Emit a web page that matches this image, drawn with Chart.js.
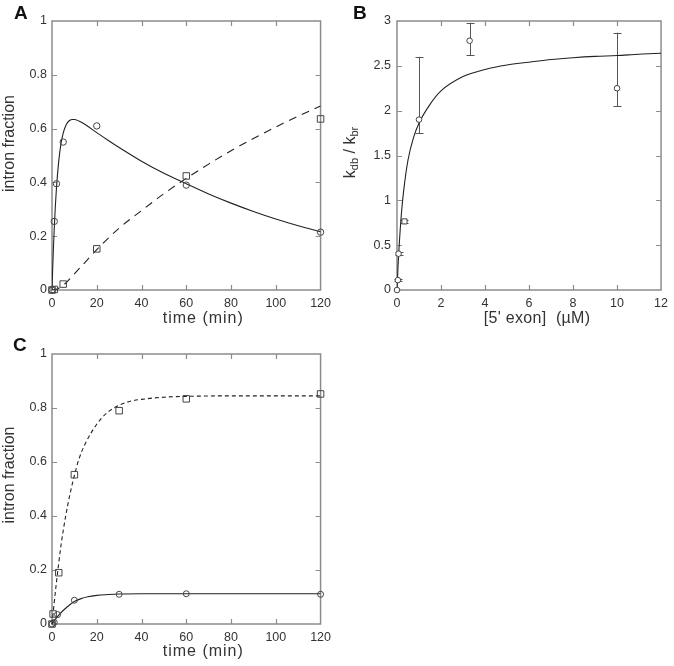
<!DOCTYPE html>
<html><head><meta charset="utf-8">
<script src="https://cdn.jsdelivr.net/npm/chart.js@4"></script>
<style>
html,body{margin:0;padding:0;background:#fff;width:674px;height:666px;overflow:hidden}
canvas{position:absolute}
</style></head><body>
<canvas id="cA" width="337" height="333" style="left:0;top:0"></canvas>
<canvas id="cB" width="337" height="333" style="left:337px;top:0"></canvas>
<canvas id="cC" width="337" height="333" style="left:0;top:333px"></canvas>
<script>
// ---------- Panel A ----------
const timeCirclesA = [0, 1, 2, 5, 20, 60, 120];
const circlesA     = [0, 0.255, 0.395, 0.55, 0.61, 0.39, 0.215];
const timeSquaresA = [0, 1, 5, 20, 60, 120];
const squaresA     = [0, 0.002, 0.022, 0.153, 0.424, 0.636];
const fitTimeA  = [0, 0.5, 1, 1.5, 2, 3, 4, 5, 6, 7, 8, 9, 10, 12, 15, 20, 25, 30, 40, 50, 60, 70, 80, 90, 100, 110, 120];
const fitSolidA = [0, 0.126, 0.229, 0.312, 0.38, 0.478, 0.543, 0.583, 0.608, 0.623, 0.631, 0.634, 0.634, 0.628, 0.614, 0.585, 0.557, 0.53, 0.479, 0.434, 0.395, 0.357, 0.323, 0.292, 0.264, 0.239, 0.217];
const fitDashTimeA = [0, 2, 4, 6, 10, 15, 20, 30, 40, 50, 60, 70, 80, 90, 100, 110, 120];
const fitDashA     = [0, 0.003, 0.012, 0.025, 0.06, 0.105, 0.15, 0.23, 0.295, 0.358, 0.415, 0.468, 0.518, 0.563, 0.606, 0.646, 0.684];
const xTicksA = {min: 0, max: 120, step: 20};
const yTicksA = {min: 0, max: 1, step: 0.2};

// ---------- Panel B ----------
const exonB    = [0, 0.04, 0.07, 0.34, 1, 3.3, 10];
const ratioB   = [0, 0.11, 0.405, 0.765, 1.9, 2.78, 2.25];
const errLowB  = [0, 0.095, 0.385, 0.745, 1.75, 2.62, 2.05];
const errHighB = [0, 0.125, 0.425, 0.785, 2.6, 2.98, 2.87];
const fitExonB  = [0, 0.05, 0.1, 0.2, 0.3, 0.5, 0.75, 1, 1.5, 2, 3, 4, 5, 6, 7, 8, 9, 10, 11, 12];
const fitRatioB = [0, 0.28, 0.5, 0.85, 1.1, 1.45, 1.7, 1.86, 2.07, 2.22, 2.38, 2.46, 2.51, 2.54, 2.57, 2.59, 2.605, 2.615, 2.63, 2.64];
const xTicksB = {min: 0, max: 12, step: 2};
const yTicksB = {min: 0, max: 3, step: 0.5};

// ---------- Panel C ----------
const timeCirclesC = [0, 1, 2.5, 10, 30, 60, 120];
const circlesC     = [0, 0.006, 0.035, 0.088, 0.11, 0.112, 0.11];
const timeSquaresC = [0, 0.5, 3, 10, 30, 60, 120];
const squaresC     = [0, 0.037, 0.19, 0.553, 0.79, 0.834, 0.852];
const fitSolidTimeC = [0, 1, 2, 3, 5, 7, 10, 13, 16, 20, 25, 30, 40, 60, 120];
const fitSolidC     = [0, 0.012, 0.023, 0.033, 0.05, 0.065, 0.083, 0.094, 0.101, 0.106, 0.109, 0.111, 0.112, 0.112, 0.112];
const fitDashTimeC = [0, 1, 2, 3, 4, 5, 6, 8, 10, 12, 15, 20, 25, 30, 35, 40, 50, 60, 80, 100, 120];
const fitDashC     = [0, 0.08, 0.155, 0.225, 0.29, 0.345, 0.395, 0.48, 0.55, 0.61, 0.67, 0.74, 0.785, 0.81, 0.825, 0.832, 0.84, 0.843, 0.845, 0.845, 0.845];
const xTicksC = {min: 0, max: 120, step: 20};
const yTicksC = {min: 0, max: 1, step: 0.2};

// ---------- helpers ----------
const FONT = "'Liberation Sans', Arial, Helvetica, sans-serif";
const TXT = '#333';
const FRAME = '#8c8c8c';
const pts = (xs, ys) => xs.map((x, i) => ({x: x, y: ys[i]}));

const frameTicks = {
  id: 'frameTicks',
  beforeDatasetsDraw(chart) {
    const {ctx, chartArea: a, scales} = chart;
    ctx.save();
    ctx.strokeStyle = FRAME;
    ctx.lineWidth = 1.5;
    ctx.strokeRect(a.left, a.top, a.right - a.left, a.bottom - a.top);
    ctx.lineWidth = 1.2;
    ctx.beginPath();
    const L = 5;
    scales.x.ticks.forEach(t => {
      const p = Math.round(scales.x.getPixelForValue(t.value)) + 0.5;
      if (p <= a.left + 1 || p >= a.right - 1) return;
      ctx.moveTo(p, a.bottom); ctx.lineTo(p, a.bottom - L);
      ctx.moveTo(p, a.top); ctx.lineTo(p, a.top + L);
    });
    scales.y.ticks.forEach(t => {
      const p = Math.round(scales.y.getPixelForValue(t.value)) + 0.5;
      if (p <= a.top + 1 || p >= a.bottom - 1) return;
      ctx.moveTo(a.left, p); ctx.lineTo(a.left + L, p);
      ctx.moveTo(a.right, p); ctx.lineTo(a.right - L, p);
    });
    ctx.stroke();
    ctx.restore();
  }
};

function drawRich(ctx, segs, x, y, rot, spacing) {
  ctx.save();
  ctx.translate(x, y);
  ctx.rotate(rot);
  ctx.fillStyle = TXT;
  ctx.textBaseline = 'middle';
  ctx.textAlign = 'left';
  if (spacing) ctx.letterSpacing = spacing;
  let total = 0;
  segs.forEach(s => { ctx.font = s.font; total += ctx.measureText(s.t).width; });
  let cx = -total / 2;
  segs.forEach(s => { ctx.font = s.font; ctx.fillText(s.t, cx, s.dy || 0); cx += ctx.measureText(s.t).width; });
  ctx.restore();
}

const richTitles = {
  id: 'richTitles',
  afterDraw(chart, args, o) {
    const {ctx, chartArea: a} = chart;
    ctx.save();
    ctx.fillStyle = '#111';
    ctx.font = 'bold 19px ' + FONT;
    ctx.textBaseline = 'alphabetic';
    ctx.fillText(o.letter, o.letterX, o.letterY);
    ctx.restore();
    drawRich(ctx, o.xTitle, (a.left + a.right) / 2 + o.xdx, a.bottom + o.xdy, 0, o.xSpacing);
    drawRich(ctx, o.yTitle, o.yx, (a.top + a.bottom) / 2 + o.ydy, -Math.PI / 2, '0px');
  }
};

const errorBars = {
  id: 'errorBars',
  beforeDatasetsDraw(chart, args, o) {
    if (!o.low) return;
    const {ctx, scales} = chart;
    ctx.save();
    ctx.strokeStyle = '#555';
    ctx.lineWidth = 1;
    ctx.beginPath();
    o.xs.forEach((xv, i) => {
      if (o.high[i] - o.low[i] <= 0) return;
      const px = Math.round(scales.x.getPixelForValue(xv)) + 0.5;
      const y1 = scales.y.getPixelForValue(o.low[i]);
      const y2 = scales.y.getPixelForValue(o.high[i]);
      ctx.moveTo(px, y1); ctx.lineTo(px, y2);
      ctx.moveTo(px - 4, Math.round(y1) + 0.5); ctx.lineTo(px + 4, Math.round(y1) + 0.5);
      ctx.moveTo(px - 4, Math.round(y2) + 0.5); ctx.lineTo(px + 4, Math.round(y2) + 0.5);
    });
    ctx.stroke();
    ctx.restore();
  }
};

function axis(t, pad, fit) {
  return {
    type: 'linear', min: t.min, max: t.max,
    ticks: {stepSize: t.step, padding: pad, color: TXT, font: {family: FONT, size: 12.5}, autoSkip: false, maxRotation: 0,
      callback: v => String(Math.round(v * 100) / 100)},
    grid: {display: false, drawTicks: false},
    border: {display: false},
    afterFit: fit
  };
}

function makeChart(id, datasets, xt, yt, padding, xh, yw, xpad, ypad, titles, eb) {
  return new Chart(document.getElementById(id), {
    type: 'scatter',
    data: {datasets: datasets},
    options: {
      responsive: false, animation: false, events: [],
      layout: {padding: padding},
      plugins: {legend: {display: false}, tooltip: {enabled: false}, richTitles: titles, errorBars: eb || {}},
      scales: {
        x: axis(xt, xpad, s => { s.height = xh; }),
        y: axis(yt, ypad, s => { s.width = yw; })
      }
    },
    plugins: [frameTicks, errorBars, richTitles]
  });
}

function markerSet(data, style, r, fill) {
  return {data: data, showLine: false, pointStyle: style, pointRadius: r, pointBorderWidth: 1,
    pointBorderColor: '#444', pointBackgroundColor: fill || 'rgba(0,0,0,0)', clip: false};
}
function curveSet(data, dash) {
  return {data: data, showLine: true, pointRadius: 0, borderColor: '#222', borderWidth: 1.1,
    borderDash: dash || [], cubicInterpolationMode: 'monotone', fill: false};
}

const tFont16 = '16px ' + FONT;

// Panel A
makeChart('cA', [
  markerSet(pts(timeCirclesA, circlesA), 'circle', 3.2),
  markerSet(pts(timeSquaresA, squaresA), 'rect', 4.6),
  curveSet(pts(fitTimeA, fitSolidA)),
  curveSet(pts(fitDashTimeA, fitDashA), [8, 6])
], xTicksA, yTicksA, {left: 0, top: 21, right: 15, bottom: 0}, 43, 52, 6, 5, {
  letter: 'A', letterX: 14, letterY: 19,
  xTitle: [{t: 'time (min)', font: tFont16}], xdx: 17, xdy: 29, xSpacing: '1px',
  yTitle: [{t: 'intron fraction', font: tFont16}], yx: 10, ydy: -12
});

// Panel B
makeChart('cB', [
  markerSet(pts(exonB, ratioB), ['circle', 'circle', 'circle', 'rect', 'circle', 'circle', 'circle'], [2.8, 2.8, 2.8, 3.6, 2.8, 2.8, 2.8], '#fff'),
  curveSet(pts(fitExonB, fitRatioB))
], xTicksB, yTicksB, {left: 0, top: 21, right: 8, bottom: 0}, 43, 60, 6, 6, {
  letter: 'B', letterX: 16, letterY: 19,
  xTitle: [{t: "[5' exon]  (\u00B5M)", font: tFont16}], xdx: 8, xdy: 29, xSpacing: '0.3px',
  yTitle: [
    {t: 'k', font: tFont16},
    {t: 'db', font: '11px ' + FONT, dy: 4},
    {t: ' / k', font: tFont16},
    {t: 'br', font: '11px ' + FONT, dy: 4}
  ], yx: 14, ydy: -3
}, {xs: exonB, low: errLowB, high: errHighB});

// Panel C
makeChart('cC', [
  markerSet(pts(timeCirclesC, circlesC), 'circle', 3),
  markerSet(pts(timeSquaresC, squaresC), 'rect', 4.6),
  curveSet(pts(fitSolidTimeC, fitSolidC)),
  curveSet(pts(fitDashTimeC, fitDashC), [4, 3])
], xTicksC, yTicksC, {left: 0, top: 21, right: 15, bottom: 0}, 42, 52, 6, 5, {
  letter: 'C', letterX: 13, letterY: 18,
  xTitle: [{t: 'time (min)', font: tFont16}], xdx: 17, xdy: 28, xSpacing: '1px',
  yTitle: [{t: 'intron fraction', font: tFont16}], yx: 10, ydy: -14
});
</script>
</body></html>
